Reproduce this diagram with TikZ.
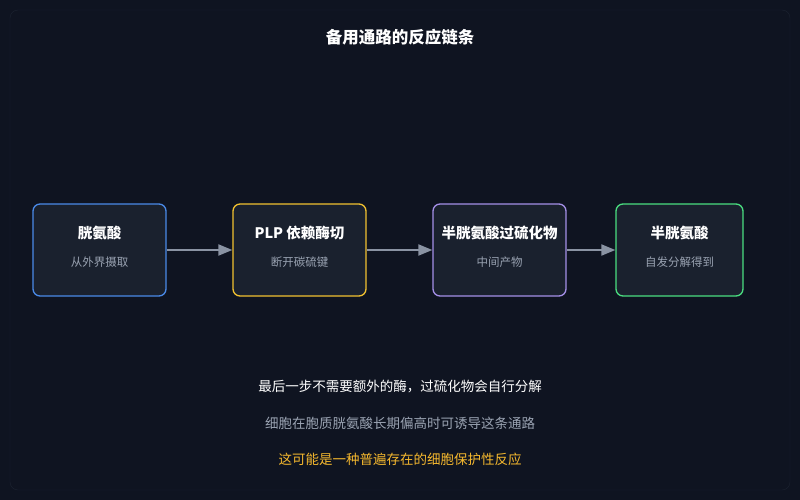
\documentclass[tikz,border=0pt]{standalone}
\usepackage{fontspec}
\setmainfont{Noto Sans CJK SC}
\usetikzlibrary{arrows.meta}
\definecolor{bg}{HTML}{0F1421}
\definecolor{boxfill}{HTML}{1A212E}
\definecolor{frame}{HTML}{1C2331}
\definecolor{ar}{HTML}{8A93A3}
\definecolor{sub}{HTML}{9AA3B2}
\definecolor{cblue}{HTML}{4A8AE8}
\definecolor{cyellow}{HTML}{F2C230}
\definecolor{cpurple}{HTML}{A590E8}
\definecolor{cgreen}{HTML}{4ADE80}
\definecolor{note}{HTML}{F5B82E}
\begin{document}
\begin{tikzpicture}[x=1pt,y=-1pt,
  box/.style={draw, line width=1.3pt, fill=boxfill, rounded corners=7pt, minimum height=92pt, inner sep=0pt},
  ttl/.style={text=white, font=\fontsize{14.5}{16}\selectfont\bfseries},
  st/.style={text=sub, font=\fontsize{11.5}{14}\selectfont},
  arr/.style={draw=ar, line width=2pt, -{Triangle[length=14pt,width=11pt]}}]
\fill[bg] (0,0) rectangle (800,500);
\draw[frame, rounded corners=8pt] (10,10) rectangle (790,490);
\node[text=white, font=\fontsize{16.5}{18}\selectfont\bfseries] (title) at (400,37) {备用通路的反应链条};
\node[box, draw=cblue, minimum width=133pt] (b1) at (99.5,250) {};
\node[box, draw=cyellow, minimum width=133pt] (b2) at (299.5,250) {};
\node[box, draw=cpurple, minimum width=133pt] (b3) at (499.5,250) {};
\node[box, draw=cgreen, minimum width=127pt] (b4) at (679.5,250) {};
\foreach \n/\t/\s in {b1/胱氨酸/从外界摄取, b2/PLP 依赖酶切/断开碳硫键, b3/半胱氨酸过硫化物/中间产物, b4/半胱氨酸/自发分解得到}{
  \node[ttl] (\n t) at ([yshift=17pt]\n.center) {\t};
  \node[st] (\n s) at ([yshift=-12pt]\n.center) {\s};
}
\draw[arr] (b1.east) -- (b2.west);
\draw[arr] (b2.east) -- (b3.west);
\draw[arr] (b3.east) -- (b4.west);
\node[text=white, font=\fontsize{13.5}{16}\selectfont] (n1) at (400,387) {最后一步不需要额外的酶，过硫化物会自行分解};
\node[text=sub, font=\fontsize{13.5}{16}\selectfont] (n2) at (400,423) {细胞在胞质胱氨酸长期偏高时可诱导这条通路};
\node[text=note, font=\fontsize{13.5}{16}\selectfont] (n3) at (400,459) {这可能是一种普遍存在的细胞保护性反应};
\end{tikzpicture}
\end{document}
